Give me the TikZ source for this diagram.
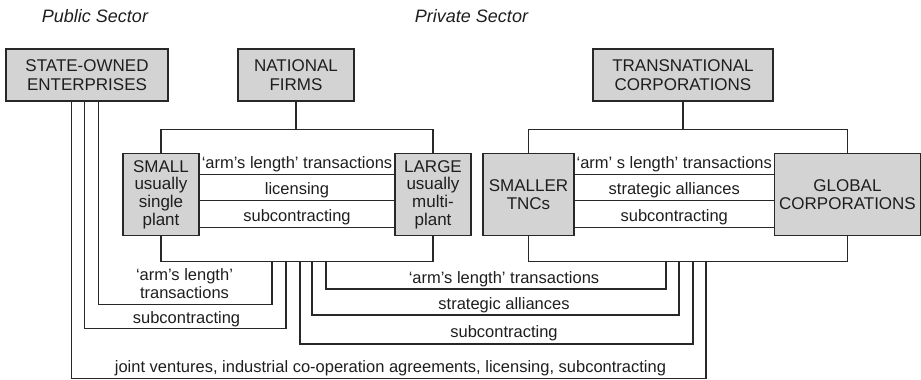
\documentclass[tikz,border=0pt]{standalone}
\usepackage{fontspec}
\setmainfont{Liberation Sans}

\begin{document}
\begin{tikzpicture}[x=1pt, y=-1pt,
		firm/.style={draw=linecol, fill=boxfill, line width=1.1pt, text=txtcol, align=center, inner sep=0pt, font=\fontsize{17}{19.4}\selectfont},
		unit/.style={firm, minimum height=82.5, font=\fontsize{17}{17.6}\selectfont},
		link/.style={draw=linecol, line width=1.1pt},
		lbl/.style={text=txtcol, anchor=base, align=center, inner sep=0pt, font=\fontsize{16.5}{17.4}\selectfont},
		head/.style={lbl, font=\fontsize{18}{18}\selectfont\itshape}]

		\definecolor{boxfill}{RGB}{211,211,211}
		\definecolor{linecol}{RGB}{40,40,40}
		\definecolor{txtcol}{RGB}{30,30,30}

		\useasboundingbox (0,0) rectangle (921,380);

		\node[head] (pub) at (95,22.5) {Public Sector};
		\node[head] (priv) at (471.5,22.5) {Private Sector};

		% firms
		\node[firm, minimum width=162, minimum height=52] (soe) at (87,75) {STATE-OWNED\\ENTERPRISES};
		\node[firm, minimum width=116, minimum height=52] (nat) at (296,75) {NATIONAL\\FIRMS};
		\node[firm, minimum width=180, minimum height=52] (tnc) at (683,75) {TRANSNATIONAL\\CORPORATIONS};

		\node[unit, minimum width=76] (small) at (161,194.5) {SMALL\\usually\\single\\plant};
		\node[unit, minimum width=76] (large) at (433,194.5) {LARGE\\usually\\multi-\\plant};
		\node[unit, minimum width=91] (smtnc) at (528.5,194.5) {SMALLER\\TNCs};
		\node[unit, minimum width=146] (glob) at (847.5,194.5) {GLOBAL\\CORPORATIONS};

		\coordinate (natbar) at (296,129.5);
		\coordinate (natfoot) at (296,261.5);
		\coordinate (tncbar) at (683,129.5);
		\coordinate (tncfoot) at (683,261.5);

		\draw[link] (nat) -- (natbar);
		\draw[link] (small) |- (natbar) -| (large);
		\draw[link] (small) |- (natfoot) -| (large);
		\draw[link] (tnc) -- (tncbar);
		\draw[link] (smtnc) |- (tncbar) -| (glob);
		\draw[link] (smtnc) |- (tncfoot) -| (glob);

		% within the sectors
		\draw[link] ([yshift=-22]small.north east) -- ([yshift=-22]large.north west)
			node[lbl, midway, yshift=6.5] (nat-al) {‘arm’s length’ transactions};
		\draw[link] ([yshift=-48]small.north east) -- ([yshift=-48]large.north west)
			node[lbl, midway, yshift=6.5] (nat-li) {licensing};
		\draw[link] ([yshift=-75]small.north east) -- ([yshift=-75]large.north west)
			node[lbl, midway, yshift=6.5] (nat-sc) {subcontracting};
		\draw[link] ([yshift=-22]smtnc.north east) -- ([yshift=-22]glob.north west)
			node[lbl, midway, yshift=6.5] (tnc-al) {‘arm’ s length’ transactions};
		\draw[link] ([yshift=-48]smtnc.north east) -- ([yshift=-48]glob.north west)
			node[lbl, midway, yshift=6.5] (tnc-sa) {strategic alliances};
		\draw[link] ([yshift=-75]smtnc.north east) -- ([yshift=-75]glob.north west)
			node[lbl, midway, yshift=6.5] (tnc-sc) {subcontracting};

		% between the sectors
		\foreach \n/\x in {a/272,b/286,c/300,d/312,e/326}
			\coordinate (nf\n) at (\x,261.5);
		\foreach \n/\x in {a/666,b/679,c/693,d/706}
			\coordinate (tf\n) at (\x,261.5);

		\draw[link] ([xshift=93]soe.south west) -- ++(0,203) -| (nfa);
		\draw[link] ([xshift=79]soe.south west) -- ++(0,227) -| (nfb);
		\draw[link] ([xshift=66]soe.south west) -- ++(0,277) -| (tfd);
		\draw[link] (nfe) -- ++(0,27.5) -| (tfa);
		\draw[link] (nfd) -- ++(0,53.5) -| (tfb);
		\draw[link] (nfc) -- ++(0,82.5) -| (tfc);

		\node[lbl, anchor=center] (soe-al) at (184.5,283.5) {‘arm’s length’\\transactions};
		\node[lbl] (soe-sc) at (186.5,323) {subcontracting};
		\node[lbl] (all-jv) at (390.5,372) {joint ventures, industrial co-operation agreements, licensing, subcontracting};
		\node[lbl] (nt-al) at (504,283.5) {‘arm’s length’ transactions};
		\node[lbl] (nt-sa) at (504,309) {strategic alliances};
		\node[lbl] (nt-sc) at (504,337.5) {subcontracting};

	\end{tikzpicture}
\end{document}
